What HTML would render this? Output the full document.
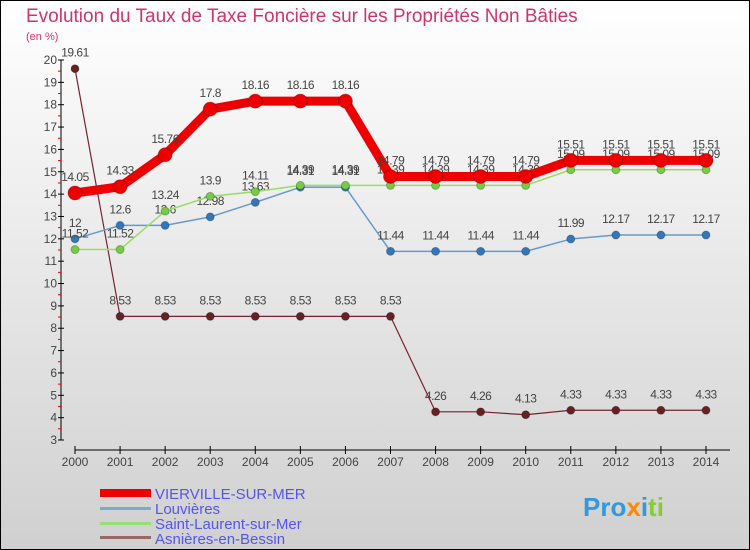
<!DOCTYPE html>
<html><head><meta charset="utf-8"><style>
body{margin:0}
svg{display:block;font-family:"Liberation Sans",sans-serif}
</style></head><body>
<svg id="c" width="750" height="550" xmlns="http://www.w3.org/2000/svg">
<defs><linearGradient id="bg" x1="0" y1="0" x2="0" y2="1"><stop offset="0" stop-color="#ffffff"/><stop offset="1" stop-color="#d0d0d0"/></linearGradient></defs>
<rect x="0.5" y="0.5" width="749" height="549" fill="url(#bg)" stroke="#000"/>
<text x="26" y="22" font-size="19" fill="#d2336a">Evolution du Taux de Taxe Foncière sur les Propriétés Non Bâties</text>
<text x="26" y="40" font-size="11" fill="#d2336a">(en %)</text>
<g id="axes"></g><g id="series"></g>
<g>
<rect x="100" y="489" width="51" height="8" fill="#ee0000"/>
<text x="155" y="499" font-size="15" fill="#5555ee">VIERVILLE-SUR-MER</text>
<rect x="100" y="507" width="51" height="3" fill="#7aaacc"/>
<text x="155" y="514" font-size="15" fill="#5555ee">Louvières</text>
<rect x="100" y="522" width="51" height="3" fill="#99dd77"/>
<text x="155" y="529" font-size="15" fill="#5555ee">Saint-Laurent-sur-Mer</text>
<rect x="100" y="536" width="51" height="3" fill="#996666"/>
<text x="155" y="544" font-size="15" fill="#5555ee">Asnières-en-Bessin</text>
</g>
<g>
<text x="583" y="516" font-size="26" font-weight="bold"><tspan fill="#3399dd">Pro</tspan><tspan fill="#ff8800">x</tspan><tspan fill="#3399dd">i</tspan><tspan fill="#88cc33">ti</tspan></text>
</g>
</svg>
<script>
const years=[2000,2001,2002,2003,2004,2005,2006,2007,2008,2009,2010,2011,2012,2013,2014];
const vierville=[14.05,14.33,15.76,17.8,18.16,18.16,18.16,14.79,14.79,14.79,14.79,15.51,15.51,15.51,15.51];
const louvieres=[12,12.6,12.6,12.98,13.63,14.31,14.31,11.44,11.44,11.44,11.44,11.99,12.17,12.17,12.17];
const stlaurent=[11.52,11.52,13.24,13.9,14.11,14.39,14.39,14.39,14.39,14.39,14.39,15.09,15.09,15.09,15.09];
const asnieres=[19.61,8.53,8.53,8.53,8.53,8.53,8.53,8.53,4.26,4.26,4.13,4.33,4.33,4.33,4.33];
const yTicks=[3,4,5,6,7,8,9,10,11,12,13,14,15,16,17,18,19,20];
const NS="http://www.w3.org/2000/svg";
const xs=i=>75+i*(706-75)/(years.length-1);
const ys=v=>60+(20-v)*(380/17);
function mk(t,a,p){const e=document.createElementNS(NS,t);for(const k in a)e.setAttribute(k,a[k]);p.appendChild(e);return e;}
const ax=document.getElementById('axes');
let yl=mk('line',{x1:61,y1:60,x2:61,y2:440,stroke:'#000'},ax);


yTicks.forEach(v=>{
 mk('line',{x1:58,x2:64,y1:ys(v),y2:ys(v),stroke:'#000'},ax);
 if(v<20){let m=mk('line',{x1:58,x2:61,y1:ys(v+0.5),y2:ys(v+0.5),stroke:'#e00'},ax);}
 let t=mk('text',{x:57,y:ys(v)+4,'font-size':12,fill:'#444','text-anchor':'end'},ax);t.textContent=v;
 
 
});
let xl=mk('line',{x1:75,y1:450,x2:730,y2:450,stroke:'#000'},ax);


years.forEach((y,i)=>{
 mk('line',{x1:xs(i),x2:xs(i),y1:446,y2:454,stroke:'#000'},ax);
 let t=mk('text',{x:xs(i),y:466,'font-size':12,fill:'#444','text-anchor':'middle'},ax);t.textContent=y;
 
 
});
const sg=document.getElementById('series');
function draw(vals,name,col,dot,w,r){
 const g=mk('g',{},sg);
 
 
 mk('polyline',{points:vals.map((v,i)=>xs(i)+','+ys(v)).join(' '),fill:'none',stroke:col,'stroke-width':w,'stroke-linejoin':'round'},g);
 vals.forEach((v,i)=>{
  let c=mk('circle',{cx:xs(i),cy:ys(v),r:r,fill:dot,stroke:'rgba(0,0,0,0.25)'},g);
  
  
  let t=mk('text',{x:xs(i),y:ys(v)-12,'font-size':12,fill:'#444','text-anchor':'middle','letter-spacing':'-0.5'},g);t.textContent=v;
  
  
 });
}
draw(asnieres,'asnieres','#772233','#662222',1.2,4);
draw(louvieres,'louvieres','#6699cc','#3377bb',1.5,4);
draw(stlaurent,'saint-laurent','#99dd66','#77cc44',1.5,4);
draw(vierville,'vierville','#ee0000','#ee0000',9,7);
</script>
</body></html>
